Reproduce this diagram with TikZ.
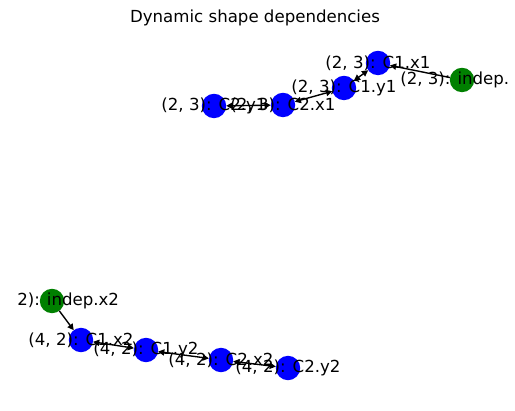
\documentclass[tikz,border=0pt]{standalone}
\usepackage{fontspec}
\setmainfont{DejaVu Sans}
\usepackage{xcolor}
\usetikzlibrary{arrows.meta}
\definecolor{dblue}{HTML}{0000FF}
\definecolor{dgreen}{HTML}{008000}

\begin{document}
\begin{tikzpicture}[x=0.254mm, y=-0.254mm,
  dep/.style={circle, fill=dblue, minimum size=24.5pt*0.72, inner sep=0pt, outer sep=0pt},
  indep/.style={dep, fill=dgreen},
  lbl/.style={font=\fontsize{12}{14}\selectfont, inner sep=0pt, text=black},
  link/.style={line width=1pt, -{Triangle[length=4.5pt, width=4.5pt]}},
  twoway/.style={line width=1pt, {Triangle[length=4.5pt, width=4.5pt]}-{Triangle[length=4.5pt, width=4.5pt]}}]

%% Canvas
\useasboundingbox (0,0) rectangle (515,411);

%% Title
\node[lbl] (title) at (255,18) {Dynamic shape dependencies};

%% ── group (2, 3) ────────────────────────────────────────────
\node[indep] (ix1) at (462,80) {};
\node[dep] (c1x1) at (378,63) {};
\node[dep] (c1y1) at (344,88) {};
\node[dep] (c2x1) at (283,105) {};
\node[dep] (c2y1) at (214,106) {};

\draw[link] (ix1) -- (c1x1);
\draw[twoway] (c1x1) -- (c1y1);
\draw[twoway] (c1y1) -- (c2x1);
\draw[twoway] (c2x1) -- (c2y1);

%% ── group (4, 2) ────────────────────────────────────────────
\node[indep] (ix2) at (52,301) {};
\node[dep] (c1x2) at (81,340) {};
\node[dep] (c1y2) at (146,350) {};
\node[dep] (c2x2) at (221,360) {};
\node[dep] (c2y2) at (288,368) {};

\draw[link] (ix2) -- (c1x2);
\draw[twoway] (c1x2) -- (c1y2);
\draw[twoway] (c1y2) -- (c2x2);
\draw[twoway] (c2x2) -- (c2y2);

%% Labels
\node[lbl, anchor=west] (lix1) at (400,80) {(2, 3): indep.};
\node[lbl] (lc1x1) at (c1x1) {(2, 3): C1.x1};
\node[lbl] (lc1y1) at (c1y1) {(2, 3): C1.y1};
\node[lbl] (lc2x1) at (c2x1) {(2, 3): C2.x1};
\node[lbl] (lc2y1) at (c2y1) {(2, 3): C2.y1};
\node[lbl, anchor=west] (lix2) at (17,301) {2): indep.x2};
\node[lbl] (lc1x2) at (c1x2) {(4, 2): C1.x2};
\node[lbl] (lc1y2) at (c1y2) {(4, 2): C1.y2};
\node[lbl] (lc2x2) at (c2x2) {(4, 2): C2.x2};
\node[lbl] (lc2y2) at (c2y2) {(4, 2): C2.y2};

\end{tikzpicture}
\end{document}
